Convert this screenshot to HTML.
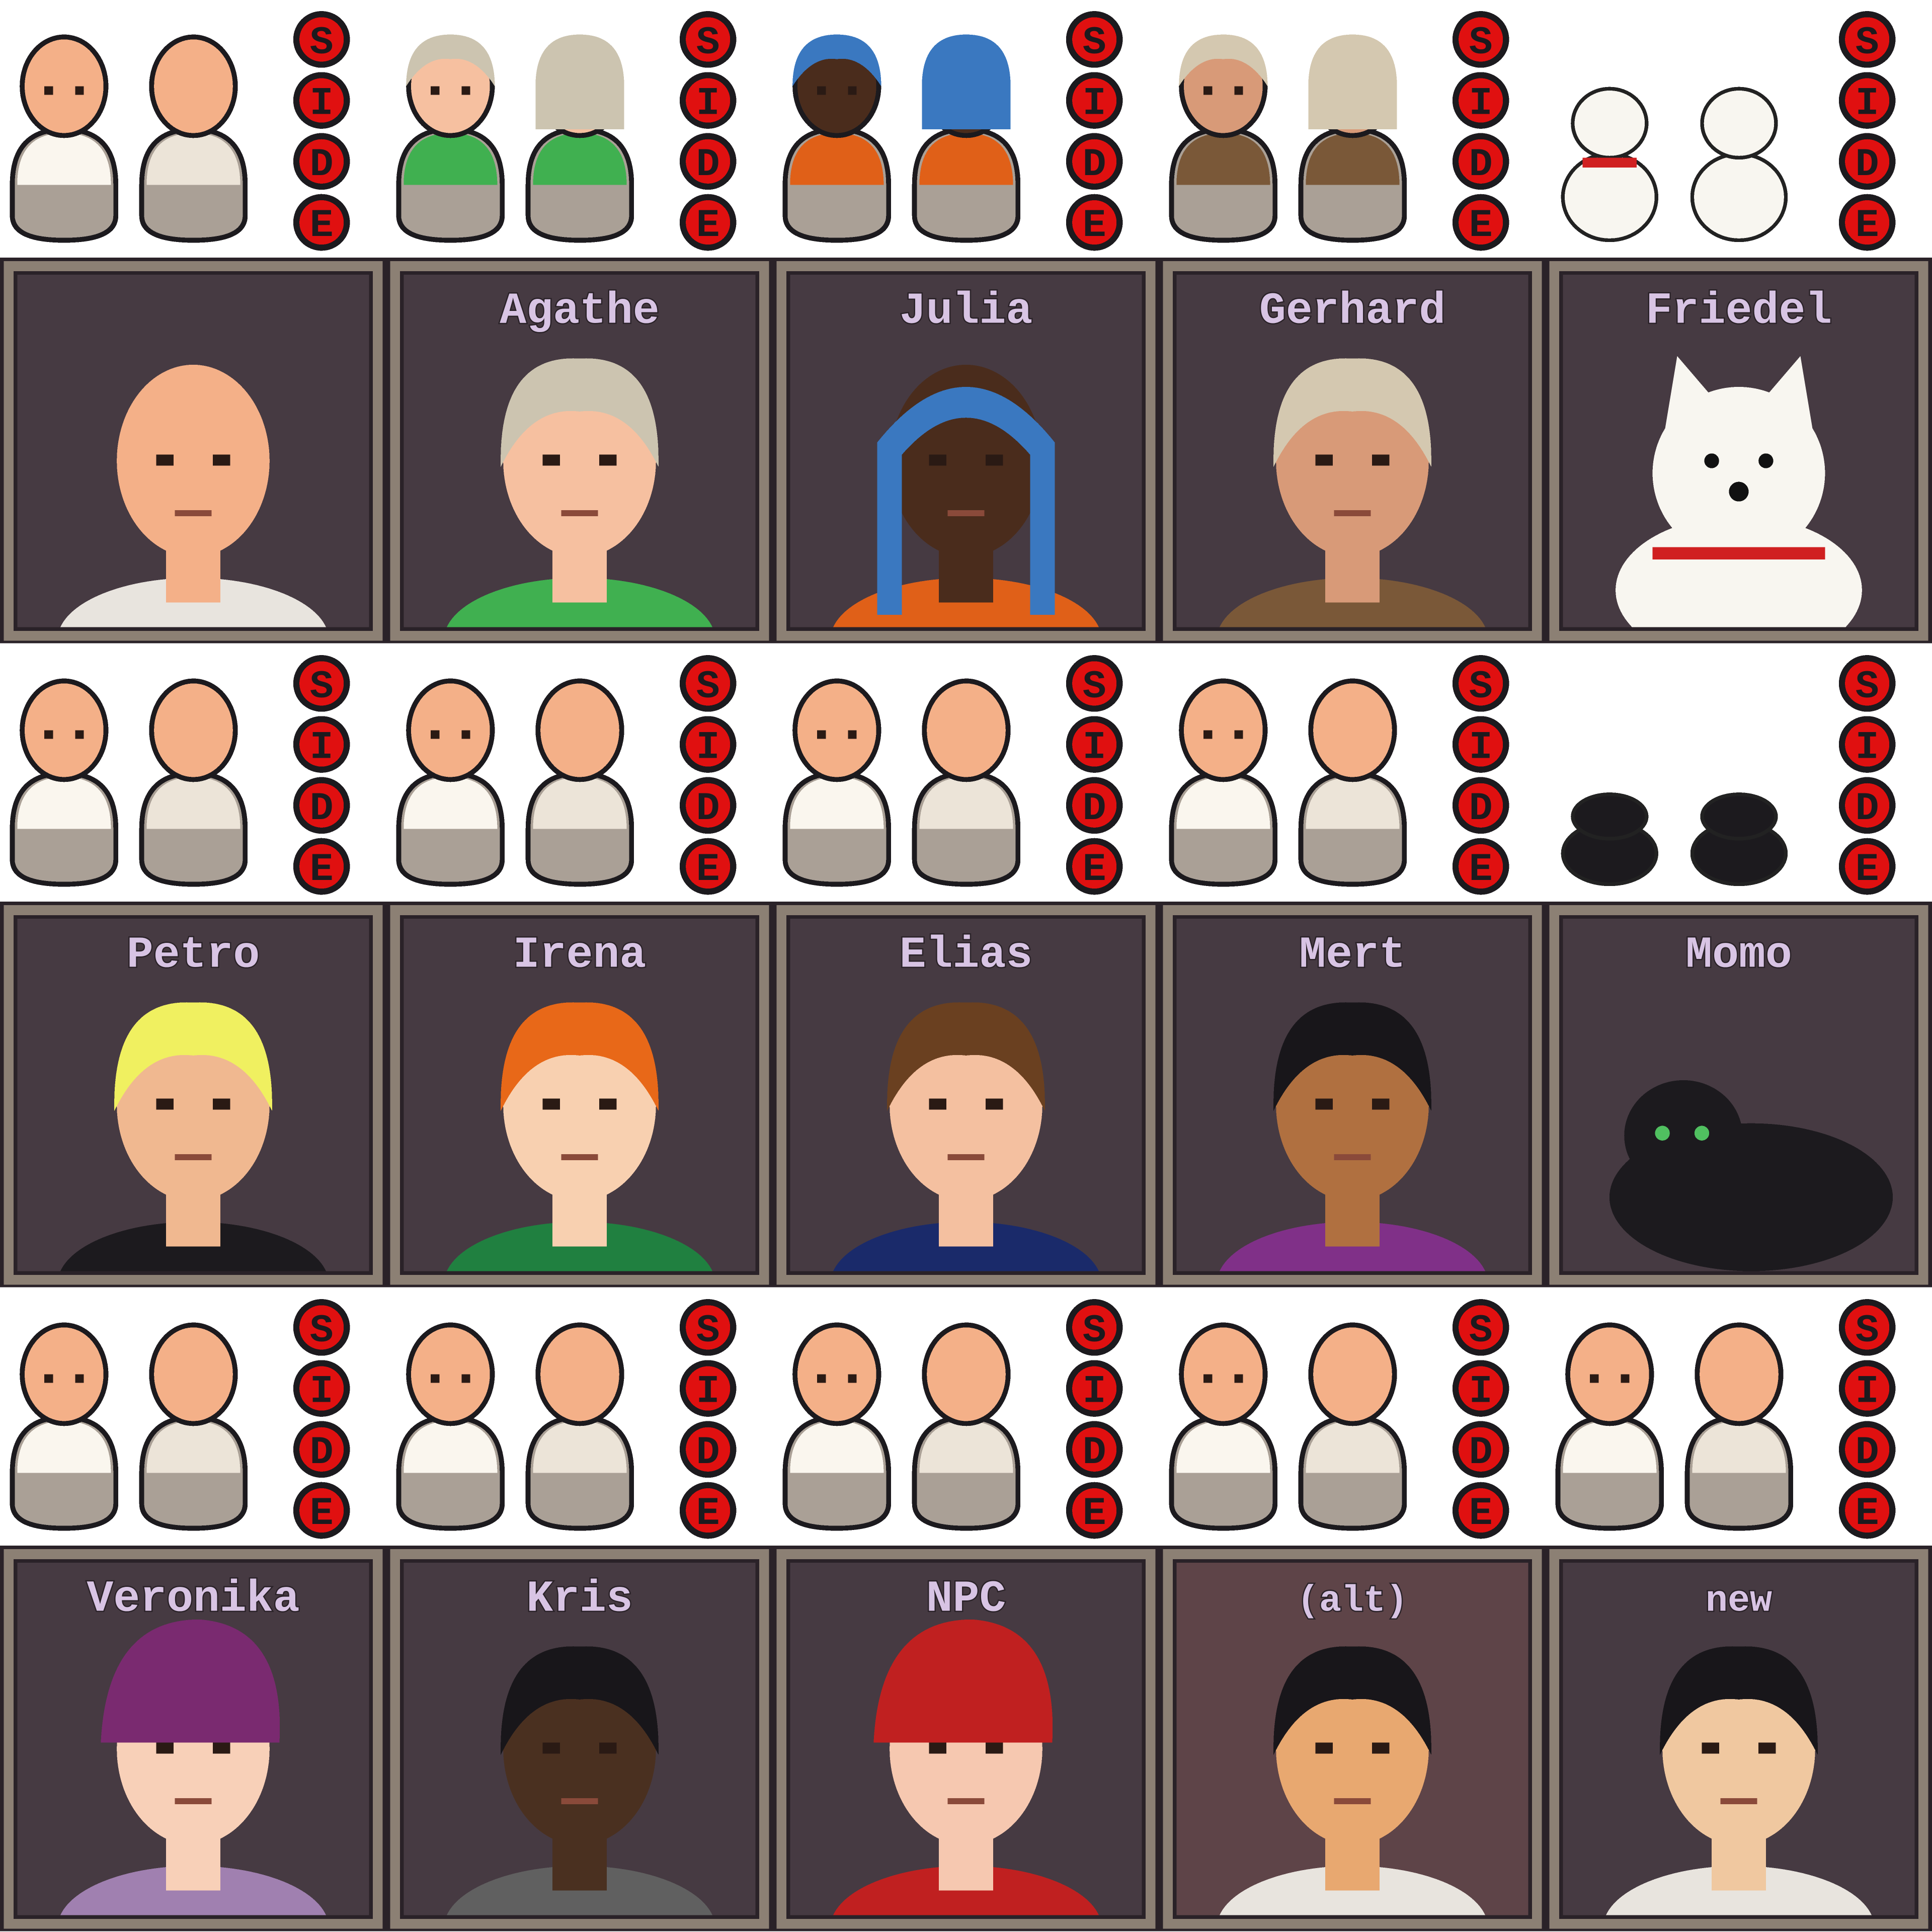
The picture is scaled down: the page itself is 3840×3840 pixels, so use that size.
<!DOCTYPE html>
<html><head><meta charset="utf-8">
<style>
html,body{margin:0;padding:0;background:#fff;}
#wrap{width:3840px;height:3840px;overflow:hidden;}
svg{display:block;}
</style></head>
<body>
<div id="wrap">
<svg id="s" width="3840" height="3840" viewBox="0 0 1568 1568" xmlns="http://www.w3.org/2000/svg" shape-rendering="crispEdges"></svg>
</div>
<script>
const names=[["","Agathe","Julia","Gerhard","Friedel"],["Petro","Irena","Elias","Mert","Momo"],["Veronika","Kris","NPC","(alt)","new"]];
const skins=[["#f4b088","#f6c0a0","#4a2c1c","#d89a78","#f8f6f0"],["#f0b890","#f8d0b0","#f4c0a0","#b07040","#1c1a1e"],["#f8d0b8","#4a3020","#f6c8b0","#e8a870","#f0c8a0"]];
const hairs=[[null,"#ccc4b0","#3a78c0","#d4c8b0",null],["#f0f060","#e86818","#6a4020","#18161a",null],["#7a2a70","#18161a","#c02020","#18161a","#18161a"]];
const shirts=[["#e8e4de","#40b050","#e06018","#7a5838","#f8f6f0"],["#1c1a1e","#208040","#1a2a6a","#803088","#1c1a1e"],["#a080b0","#606060","#c02020","#e8e4de","#e8e4de"]];
const fills=[["#463a42","#463a42","#463a42","#463a42","#463a42"],["#463a42","#463a42","#463a42","#463a42","#463a42"],["#463a42","#463a42","#463a42","#5e4448","#463a42"]];
const NS="http://www.w3.org/2000/svg";
const svg=document.getElementById('s');
const defs=document.createElementNS(NS,'defs');svg.appendChild(defs);
function el(t,a,p){const e=document.createElementNS(NS,t);for(const k in a)e.setAttribute(k,a[k]);(p||svg).appendChild(e);return e;}
const BH=1568/3, CW=1568/5;
for(let b=0;b<3;b++){
 const y0=b*BH;
 for(let c=0;c<5;c++){
  const x0=c*CW;
  const g=el('g',{});
  
  
  const animal=(b==0&&c==4)||(b==1&&c==4);
  for(let k=0;k<2;k++){
   const cx=x0+52+k*105;
   const f=el('g',{},g);
   
   
   if(animal){
     const col=b==0?'#f8f6f0':'#1c1a1e';
     el('ellipse',{cx:cx,cy:y0+(b==0?160:170),rx:38,ry:b==0?35:25,fill:col,stroke:'#222',"stroke-width":3},f);
     el('ellipse',{cx:cx,cy:y0+(b==0?100:140),rx:30,ry:b==0?28:18,fill:col,stroke:'#222',"stroke-width":3},f);
     if(b==0&&k==0) el('rect',{x:cx-22,y:y0+128,width:44,height:8,fill:'#d02020'},f);
     continue;
   }
   const sk=b==0?skins[0][c]:'#f4b088';
   el('path',{d:`M${cx-42},${y0+150} Q${cx-42},${y0+105} ${cx},${y0+105} Q${cx+42},${y0+105} ${cx+42},${y0+150} L${cx+42},${y0+175} Q${cx+42},${y0+195} ${cx},${y0+195} Q${cx-42},${y0+195} ${cx-42},${y0+175}Z`,fill:'#aaa096',stroke:'#1c1a1e',"stroke-width":4},f);
   const top=b==0&&c>0?shirts[0][c]:(k==0?'#faf6ee':'#ece4d8');
   el('path',{d:`M${cx-38},${y0+150} Q${cx-38},${y0+108} ${cx},${y0+108} Q${cx+38},${y0+108} ${cx+38},${y0+150}Z`,fill:top},f);
   el('ellipse',{cx:cx,cy:y0+70,rx:34,ry:40,fill:sk,stroke:'#1c1a1e',"stroke-width":4},f);
   const h=b==0?hairs[0][c]:null;
   if(h) el('path',{d:k==0?`M${cx-36},${y0+70} Q${cx-36},${y0+28} ${cx},${y0+28} Q${cx+36},${y0+28} ${cx+36},${y0+70} Q${cx+20},${y0+45} ${cx},${y0+48} Q${cx-20},${y0+45} ${cx-36},${y0+70}Z`:`M${cx-36},${y0+70} Q${cx-36},${y0+28} ${cx},${y0+28} Q${cx+36},${y0+28} ${cx+36},${y0+70} L${cx+36},${y0+105} L${cx-36},${y0+105}Z`,fill:h},f);
   if(k==0){el('rect',{x:cx-16,y:y0+70,width:7,height:7,fill:'#2a1a14'},f);el('rect',{x:cx+9,y:y0+70,width:7,height:7,fill:'#2a1a14'},f);}
  }
  const side=el('g',{},g);
  
  
  "SIDE".split('').forEach((ch,i)=>{
   const cy=y0+32+i*49.5, cx=x0+261;
   el('circle',{cx:cx,cy:cy,r:23,fill:'#1c1a1e'},side);
   el('circle',{cx:cx,cy:cy,r:18,fill:'#e01010'},side);
   const t=el('text',{x:cx,y:cy+11,"text-anchor":"middle","font-family":"Liberation Mono, monospace","font-weight":"bold","font-size":32,fill:'#1c1a1e'},side);t.textContent=ch;
  });
 }
 el('rect',{x:0,y:y0+209,width:1568,height:313,fill:'#2a2228'});
 for(let c=0;c<5;c++){
  const x0=c*CW;
  const tile=el('g',{});
  
  
  const tx=x0+3, ty=y0+212, tw=CW-6, th=308;
  el('rect',{x:tx,y:ty,width:tw,height:th,fill:'#8c8074'},tile);
  el('rect',{x:tx+8,y:ty+8,width:tw-16,height:th-16,fill:'#2a2228'},tile);
  el('rect',{x:tx+11,y:ty+11,width:tw-22,height:th-22,fill:fills[b][c]},tile);
  const cid='clip'+b+'_'+c;
  const cp=el('clipPath',{id:cid},defs);
  el('rect',{x:tx+11,y:ty+11,width:tw-22,height:th-22},cp);
  const cx=tx+tw/2, by=ty+th-11;
  const sk=skins[b][c], hr=hairs[b][c], sh=shirts[b][c];
  const ch=el('g',{"clip-path":`url(#${cid})`},tile);
  
  
  if(b==1&&c==4){
   el('ellipse',{cx:cx+10,cy:by-60,rx:115,ry:60,fill:'#1c1a1e'},ch);
   el('ellipse',{cx:cx-45,cy:by-110,rx:48,ry:45,fill:'#1c1a1e'},ch);
   el('circle',{cx:cx-62,cy:by-112,r:6,fill:'#50c060'},ch);el('circle',{cx:cx-30,cy:by-112,r:6,fill:'#50c060'},ch);
  } else if(b==0&&c==4){
   el('ellipse',{cx:cx,cy:by-30,rx:100,ry:60,fill:sk},ch);
   el('ellipse',{cx:cx,cy:by-125,rx:70,ry:70,fill:sk},ch);
   el('path',{d:`M${cx-60},${by-160} L${cx-50},${by-220} L${cx-20},${by-185}Z M${cx+60},${by-160} L${cx+50},${by-220} L${cx+20},${by-185}Z`,fill:sk},ch);
   el('rect',{x:cx-70,y:by-65,width:140,height:10,fill:'#d02020'},ch);
   el('circle',{cx:cx-22,cy:by-135,r:6,fill:'#111'},ch);el('circle',{cx:cx+22,cy:by-135,r:6,fill:'#111'},ch);el('circle',{cx:cx,cy:by-110,r:8,fill:'#111'},ch);
  } else {
   el('ellipse',{cx:cx,cy:by+10,rx:110,ry:50,fill:sh},ch);
   el('rect',{x:cx-22,y:by-70,width:44,height:50,fill:sk},ch);
   el('ellipse',{cx:cx,cy:by-135,rx:62,ry:78,fill:sk},ch);
   if(hr){
    if(b==0&&c==2) el('path',{d:`M${cx-72},${by-10} L${cx-72},${by-150} Q${cx},${by-240} ${cx+72},${by-150} L${cx+72},${by-10} L${cx+52},${by-10} L${cx+52},${by-140} Q${cx},${by-200} ${cx-52},${by-140} L${cx-52},${by-10}Z`,fill:hr},ch);
    else if(b==2&&(c==0||c==2)) el('path',{d:`M${cx-75},${by-140} Q${cx-70},${by-240} ${cx+5},${by-240} Q${cx+75},${by-235} ${cx+70},${by-140}Z`,fill:hr},ch);
    else el('path',{d:`M${cx-64},${by-130} Q${cx-66},${by-222} ${cx},${by-218} Q${cx+66},${by-222} ${cx+64},${by-130} Q${cx+40},${by-180} ${cx},${by-175} Q${cx-40},${by-180} ${cx-64},${by-130}Z`,fill:hr},ch);
   }
   el('rect',{x:cx-30,y:by-140,width:14,height:9,fill:'#2a1a14'},ch);el('rect',{x:cx+16,y:by-140,width:14,height:9,fill:'#2a1a14'},ch);
   el('rect',{x:cx-15,y:by-95,width:30,height:5,fill:'#8a4a3a'},ch);
  }
  if(names[b][c]){
   const t=el('text',{x:cx,y:ty+50,"text-anchor":"middle","font-family":"Liberation Mono, monospace","font-weight":"bold","font-size":c==3&&b==2||c==4&&b==2?30:36,fill:'#d8c4e4',stroke:'#2a2228',"stroke-width":2,"paint-order":"stroke"},tile);
   t.textContent=names[b][c];
   
   
  }
 }
}
</script>
</body></html>
